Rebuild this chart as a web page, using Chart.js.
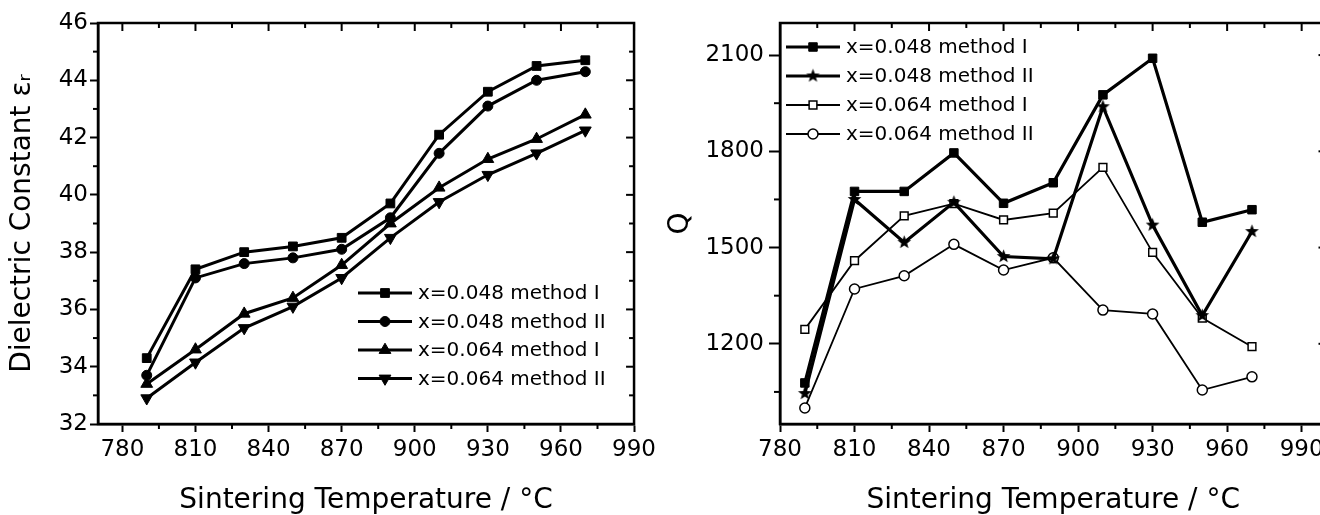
<!DOCTYPE html>
<html>
<head>
<meta charset="utf-8">
<script src="https://cdn.jsdelivr.net/npm/chart.js@4/dist/chart.umd.min.js"></script>
<style>
html, body { margin: 0; padding: 0; background: #fff; overflow: hidden; width: 1320px; height: 515px; }
#left { position: absolute; left: 0; top: 0; }
#right { position: absolute; left: 660px; top: 0; }
</style>
</head>
<body>
<canvas id="left" width="660" height="515"></canvas>
<canvas id="right" width="700" height="515"></canvas>
<script>
// data
var temps = [790, 810, 830, 850, 870, 890, 910, 930, 950, 970];

var eps048m1 = [34.3, 37.4, 38.0, 38.2, 38.5, 39.7, 42.1, 43.6, 44.5, 44.7];
var eps048m2 = [33.7, 37.1, 37.6, 37.8, 38.1, 39.2, 41.45, 43.1, 44.0, 44.3];
var eps064m1 = [33.4, 34.6, 35.85, 36.4, 37.55, 39.0, 40.25, 41.25, 41.95, 42.8];
var eps064m2 = [32.9, 34.15, 35.35, 36.1, 37.1, 38.5, 39.75, 40.7, 41.45, 42.25];

var q048m1 = [1078, 1675, 1675, 1795, 1638, 1702, 1976, 2090, 1579, 1618];
var q048m2 = [1045, 1650, 1516, 1641, 1472, 1465, 1939, 1570, 1288, 1550];
var q064m1 = [1245, 1459, 1599, 1637, 1586, 1607, 1750, 1485, 1280, 1191];
var q064m2 = [1000, 1371, 1412, 1510, 1430, 1468, 1305, 1293, 1056, 1097];

var labels = ['x=0.048 method I', 'x=0.048 method II', 'x=0.064 method I', 'x=0.064 method II'];

var tempTicks = [780, 810, 840, 870, 900, 930, 960, 990];
var epsTicks = [32, 34, 36, 38, 40, 42, 44, 46];
var qTicks = [1200, 1500, 1800, 2100];

var FONT = "'DejaVu Sans', sans-serif";

// filled five point star, Chart.js takes a canvas as pointStyle
function makeStar(r) {
  var c = document.createElement('canvas');
  var s = Math.ceil(r * 2) + 2;
  c.width = s; c.height = s;
  var g = c.getContext('2d');
  g.fillStyle = '#000';
  g.beginPath();
  for (var i = 0; i < 10; i++) {
    var rr = i % 2 === 0 ? r : r * 0.42;
    var ang = -Math.PI / 2 + i * Math.PI / 5;
    var px = s / 2 + rr * Math.cos(ang), py = s / 2 + rr * Math.sin(ang);
    if (i === 0) g.moveTo(px, py); else g.lineTo(px, py);
  }
  g.closePath();
  g.fill();
  return c;
}
var star = makeStar(7.2);

function series(label, values, style) {
  var ds = {
    label: label,
    data: values.map(function (v, i) { return { x: temps[i], y: v }; }),
    borderColor: '#000',
    backgroundColor: '#000',
    pointBackgroundColor: '#000',
    pointBorderColor: '#000',
    pointBorderWidth: 1,
    tension: 0,
    fill: false
  };
  return Object.assign(ds, style);
}

// box around the plot + mirrored ticks on top/right + minor ticks
var frameTicks = {
  id: 'frameTicks',
  afterDraw: function (chart, args, opts) {
    var ctx = chart.ctx, a = chart.chartArea;
    var xs = chart.scales.x, ys = chart.scales.y;
    ctx.save();
    ctx.strokeStyle = '#000';
    ctx.lineWidth = 2.5;
    ctx.strokeRect(a.left, a.top, a.right - a.left, a.bottom - a.top);
    ctx.lineWidth = 2;
    function seg(x1, y1, x2, y2) {
      ctx.beginPath(); ctx.moveTo(x1, y1); ctx.lineTo(x2, y2); ctx.stroke();
    }
    function each(scale, fn) {
      var t = scale.ticks.map(function (k) { return k.value; });
      var step = t[1] - t[0];
      t.forEach(function (v) { fn(scale.getPixelForValue(v), true); });
      for (var v = t[0] - step / 2; v <= scale.max; v += step) {
        if (v >= scale.min) fn(scale.getPixelForValue(v), false);
      }
    }
    each(xs, function (px, major) {
      seg(px, a.top, px, a.top + (major ? opts.major : opts.minor));
      if (!major) seg(px, a.bottom, px, a.bottom + opts.minor);
    });
    each(ys, function (py, major) {
      seg(a.right, py, a.right - (major ? opts.major : opts.minor), py);
      if (!major) seg(a.left, py, a.left - opts.minorOut, py);
    });
    ctx.restore();
  }
};

// legend as Origin draws it: line - marker - line, then text
var lineLegend = {
  id: 'lineLegend',
  afterDraw: function (chart, args, opts) {
    var ctx = chart.ctx;
    ctx.save();
    chart.data.datasets.forEach(function (ds, i) {
      var y = opts.y + i * opts.dy;
      ctx.strokeStyle = '#000';
      ctx.lineWidth = ds.borderWidth;
      ctx.beginPath();
      ctx.moveTo(opts.x, y);
      ctx.lineTo(opts.x + opts.len, y);
      ctx.stroke();
      ctx.fillStyle = ds.pointBackgroundColor;
      ctx.strokeStyle = ds.pointBorderColor;
      ctx.lineWidth = ds.pointBorderWidth;
      Chart.helpers.drawPoint(ctx, {
        pointStyle: ds.pointStyle,
        rotation: ds.pointRotation || 0,
        radius: ds.pointRadius,
        borderWidth: ds.pointBorderWidth
      }, opts.x + opts.len / 2, y);
      ctx.fillStyle = '#000';
      ctx.font = opts.size + 'px ' + FONT;
      ctx.textBaseline = 'middle';
      ctx.textAlign = 'left';
      ctx.fillText(ds.label, opts.x + opts.len + 6, y + 1);
    });
    ctx.restore();
  }
};

function axes(xmin, xmax, xt, ymin, ymax, yt, yTitle, yTitlePad, yWidth, yTick) {
  return {
    x: {
      type: 'linear', min: xmin, max: xmax,
      afterBuildTicks: function (s) { s.ticks = xt.map(function (v) { return { value: v }; }); },
      afterFit: function (s) { s.height = 91; },
      ticks: { color: '#000', font: { family: FONT, size: 23 }, padding: 4, maxRotation: 0,
        callback: function (v) { return String(v); } },
      grid: { drawOnChartArea: false, drawTicks: true, tickLength: 8, tickWidth: 2, tickColor: '#000' },
      border: { display: true, color: '#000', width: 2.5 },
      title: { display: true, text: 'Sintering Temperature / °C', color: '#000',
        font: { family: FONT, size: 28, lineHeight: 1 }, padding: 0 }
    },
    y: {
      min: ymin, max: ymax,
      afterBuildTicks: function (s) { s.ticks = yt.map(function (v) { return { value: v }; }); },
      afterFit: function (s) { s.width = yWidth; },
      ticks: { color: '#000', font: { family: FONT, size: 23 }, padding: yTick.pad,
        callback: function (v) { return String(v); } },
      grid: { drawOnChartArea: false, drawTicks: true, tickLength: yTick.len, tickWidth: 2, tickColor: '#000' },
      border: { display: true, color: '#000', width: 2.5 },
      title: { display: true, text: yTitle, color: '#000',
        font: { family: FONT, size: 28, lineHeight: 1 }, padding: yTitlePad }
    }
  };
}

var base = { responsive: false, animation: false, devicePixelRatio: 1 };

new Chart(document.getElementById('left'), {
  type: 'line',
  data: {
    datasets: [
      series(labels[0], eps048m1, { borderWidth: 3, pointStyle: 'rect', pointRadius: 6.2 }),
      series(labels[1], eps048m2, { borderWidth: 3, pointStyle: 'circle', pointRadius: 5 }),
      series(labels[2], eps064m1, { borderWidth: 3, pointStyle: 'triangle', pointRadius: 6.8 }),
      series(labels[3], eps064m2, { borderWidth: 3, pointStyle: 'triangle', pointRotation: 180, pointRadius: 6.8 })
    ]
  },
  options: Object.assign({}, base, {
    layout: { padding: { left: 0, right: 23, top: 23, bottom: 0 } },
    plugins: {
      legend: { display: false }, tooltip: { enabled: false },
      frameTicks: { major: 8, minor: 5, minorOut: 5 },
      lineLegend: { x: 358, y: 293, dy: 28.5, len: 54, size: 20 }
    },
    scales: axes(770, 990, tempTicks, 32, 46, epsTicks, 'Dielectric Constant εᵣ', 9, 98, { len: 8, pad: 2 })
  }),
  plugins: [frameTicks, lineLegend]
});

new Chart(document.getElementById('right'), {
  type: 'line',
  data: {
    datasets: [
      series(labels[0], q048m1, { borderWidth: 3.2, pointStyle: 'rect', pointRadius: 6 }),
      series(labels[1], q048m2, { borderWidth: 3.2, pointStyle: star, pointRadius: 7 }),
      series(labels[2], q064m1, { borderWidth: 1.8, pointStyle: 'rect', pointRadius: 5.5,
        pointBackgroundColor: '#fff', pointBorderWidth: 1.5 }),
      series(labels[3], q064m2, { borderWidth: 1.8, pointStyle: 'circle', pointRadius: 5,
        pointBackgroundColor: '#fff', pointBorderWidth: 1.5 })
    ]
  },
  options: Object.assign({}, base, {
    layout: { padding: { left: 0, right: 33.5, top: 23, bottom: 0 } },
    plugins: {
      legend: { display: false }, tooltip: { enabled: false },
      frameTicks: { major: 8, minor: 5, minorOut: 6 },
      lineLegend: { x: 126, y: 47, dy: 29, len: 54, size: 20 }
    },
    scales: axes(780, 1000, tempTicks, 950, 2200, qTicks, 'Q', 7, 120, { len: 11, pad: 5 })
  }),
  plugins: [frameTicks, lineLegend]
});
</script>
</body>
</html>
